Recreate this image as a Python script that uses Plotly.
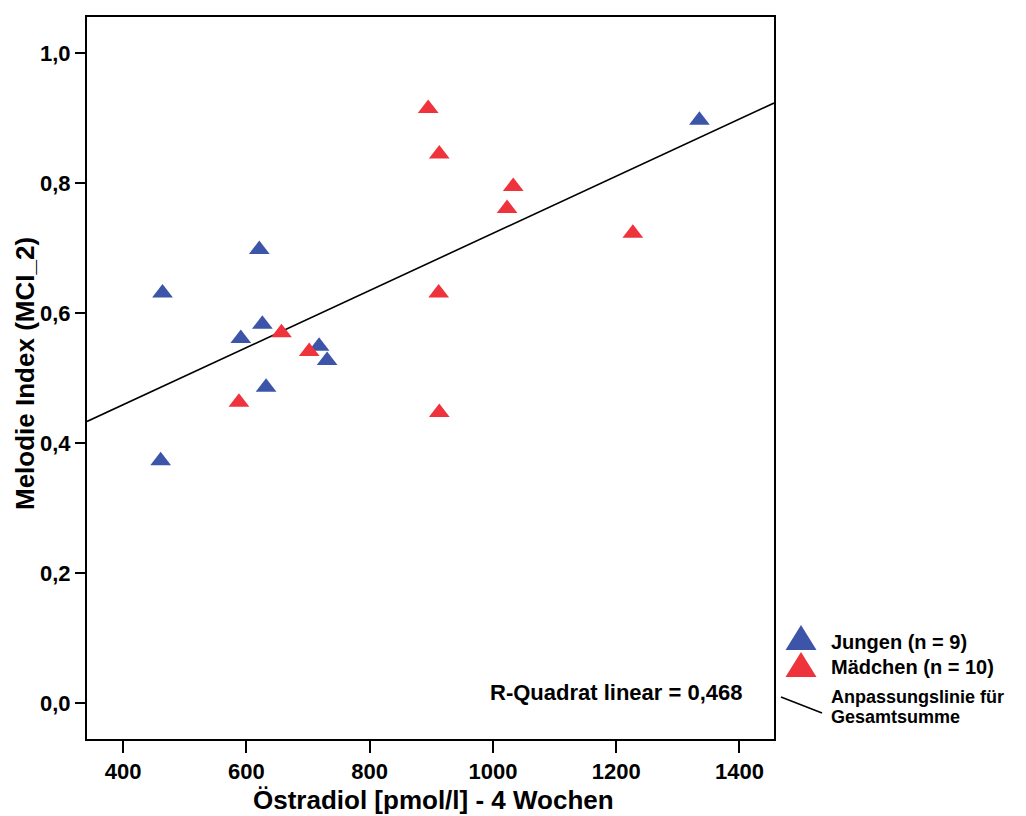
import numpy as np
import plotly.graph_objects as go

# Östradiol (pmol/l) after 4 weeks and melody index MCI_2, split by group
boys_estradiol = [464, 621, 626, 591, 718, 731, 632, 461, 1335]
boys_mci = [0.631, 0.698, 0.583, 0.561, 0.549, 0.527, 0.486, 0.373, 0.897]

girls_estradiol = [895, 913, 1033, 1023, 1227, 912, 913, 657, 702, 588]
girls_mci = [0.915, 0.845, 0.795, 0.761, 0.723, 0.631, 0.447, 0.570, 0.541, 0.463]

x_tick_vals = [400, 600, 800, 1000, 1200, 1400]
x_tick_text = ["400", "600", "800", "1000", "1200", "1400"]
y_tick_vals = [0.0, 0.2, 0.4, 0.6, 0.8, 1.0]
y_tick_text = ["0,0", "0,2", "0,4", "0,6", "0,8", "1,0"]

x_range = [341.5, 1456]
y_range = [-0.0555, 1.056]

x_title = "Östradiol [pmol/l] - 4 Wochen"
y_title = "Melodie Index (MCI_2)"
r_squared_label = "R-Quadrat linear = 0,468"
legend_labels = ["Jungen (n = 9)", "Mädchen (n = 10)", "Anpassungslinie für", "Gesamtsumme"]

BLUE = "#3D55A9"
RED = "#EE333C"
FONT = "Liberation Sans, Arial, sans-serif"

# Figure geometry (pixels)
W, H = 1026, 816
ML, MR, MT, MB = 87, 252, 17, 77
PW, PH = W - ML - MR, H - MT - MB


def px(xp):
    return (xp - ML) / PW


def py(yp):
    return (H - MB - yp) / PH


# Linear fit over all children
all_x = np.array(boys_estradiol + girls_estradiol, dtype=float)
all_y = np.array(boys_mci + girls_mci, dtype=float)
slope, intercept = np.polyfit(all_x, all_y, 1)
fit_x = np.array(x_range)
fit_y = slope * fit_x + intercept

fig = go.Figure()
fig.add_trace(go.Scatter(
    x=fit_x, y=fit_y, mode="lines",
    line=dict(color="black", width=1.6),
    hoverinfo="skip", showlegend=False,
))
fig.add_trace(go.Scatter(
    x=boys_estradiol, y=boys_mci, mode="markers",
    marker=dict(symbol="triangle-up", size=18, color=BLUE, line=dict(width=0)),
    name=legend_labels[0], showlegend=False,
))
fig.add_trace(go.Scatter(
    x=girls_estradiol, y=girls_mci, mode="markers",
    marker=dict(symbol="triangle-up", size=18, color=RED, line=dict(width=0)),
    name=legend_labels[1], showlegend=False,
))

axis_common = dict(
    showgrid=False, zeroline=False, automargin=False,
    showline=True, linecolor="black", linewidth=2, mirror=True,
    ticks="outside", tickcolor="black", tickwidth=2,
    tickfont=dict(family=FONT, size=22, color="black", weight="bold"),
)

fig.update_xaxes(range=x_range, tickvals=x_tick_vals, ticktext=x_tick_text,
                 ticklen=12, **axis_common)
fig.update_yaxes(range=y_range, tickvals=y_tick_vals, ticktext=y_tick_text,
                 ticklen=10, **axis_common)

title_font = dict(family=FONT, size=26, color="black", weight="bold")
annotations = [
    dict(text=x_title, xref="paper", yref="paper", x=px(433), y=py(800),
         xanchor="center", yanchor="middle", showarrow=False, font=title_font),
    dict(text=y_title, xref="paper", yref="paper", x=px(25), y=py(374),
         xanchor="center", yanchor="middle", textangle=-90, showarrow=False,
         font=title_font),
    dict(text=r_squared_label, xref="paper", yref="paper",
         x=px(745), y=py(692), xanchor="right", yanchor="middle",
         showarrow=False,
         font=dict(family=FONT, size=22, color="black", weight="bold")),
]

legend_font = dict(family=FONT, size=20, color="black", weight="bold")
note_font = dict(family=FONT, size=18, color="black", weight="bold")
legend_rows = [(legend_labels[0], 642, legend_font), (legend_labels[1], 667, legend_font),
               (legend_labels[2], 697, note_font), (legend_labels[3], 717, note_font)]
for label, ypix, fnt in legend_rows:
    annotations.append(dict(text=label, xref="paper", yref="paper", x=px(829), y=py(ypix),
                            xanchor="left", yanchor="middle", showarrow=False,
                            font=fnt))


def tri_path(cx, apex_y, base_y, half_w):
    return (f"M {px(cx - half_w)} {py(base_y)} L {px(cx + half_w)} {py(base_y)} "
            f"L {px(cx)} {py(apex_y)} Z")


shapes = [
    dict(type="path", xref="paper", yref="paper", path=tri_path(801, 625, 650, 15.5),
         fillcolor=BLUE, line=dict(width=0)),
    dict(type="path", xref="paper", yref="paper", path=tri_path(801, 652, 677, 15.5),
         fillcolor=RED, line=dict(width=0)),
    dict(type="line", xref="paper", yref="paper",
         x0=px(781), y0=py(697), x1=px(822), y1=py(713),
         line=dict(color="black", width=1.6)),
]

fig.update_layout(
    width=W, height=H,
    margin=dict(l=ML, r=MR, t=MT, b=MB, pad=0),
    paper_bgcolor="white", plot_bgcolor="white",
    showlegend=False,
    annotations=annotations, shapes=shapes,
)

fig.write_html("out.html")
